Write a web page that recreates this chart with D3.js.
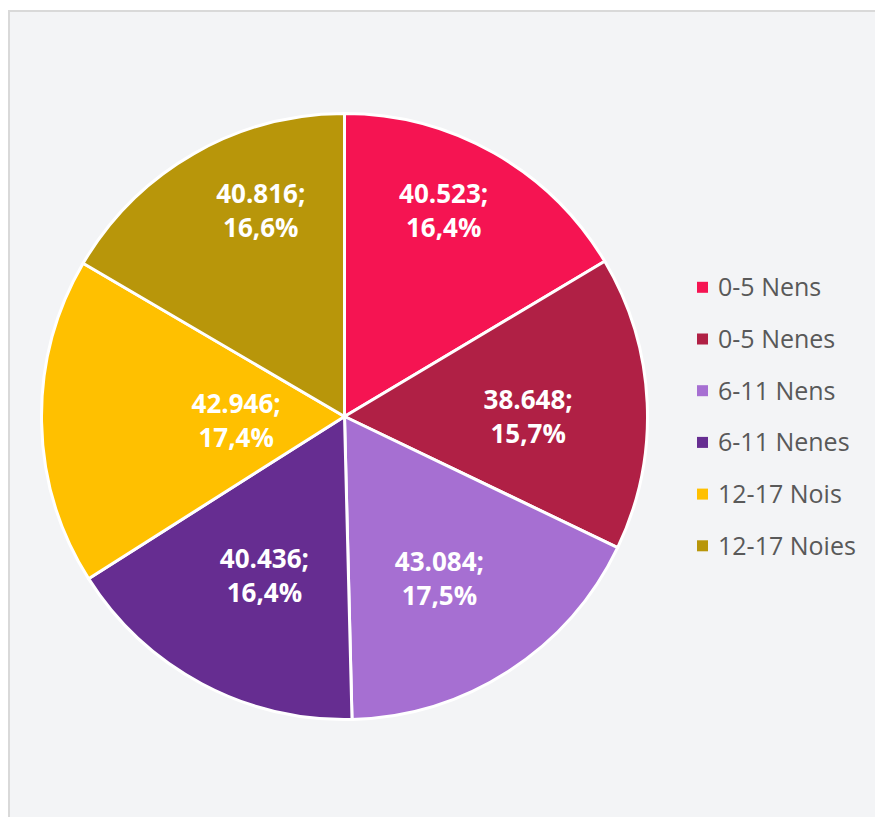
<!DOCTYPE html>
<meta charset="utf-8">
<script src="https://cdnjs.cloudflare.com/ajax/libs/d3/7.8.5/d3.min.js"></script>
<style>
body { margin: 0; background: #fff; }
text { font-family: "Open Sans", sans-serif; }
</style>
<body>
<script>
// data
var categories = ["0-5 Nens", "0-5 Nenes", "6-11 Nens", "6-11 Nenes", "12-17 Nois", "12-17 Noies"];
var values = [40523, 38648, 43084, 40436, 42946, 40816];
var colors = ["#F51452", "#B02045", "#A66FD2", "#662D91", "#FFC000", "#B8960A"];

// label placement (Excel "best fit" style nudges)
var labelRadius = [0.752, 0.606, 0.623, 0.590, 0.358, 0.731];
var labelTurn = [-3.8, 2.75, 2.7, -1.5, -1.4, 7.6];

var w = 875, h = 817;
var cx = 344.5, cy = 416.5, r = 303;

var svg = d3.select("body").append("svg")
    .attr("width", w)
    .attr("height", h);

// panel
svg.append("rect")
    .attr("x", 9).attr("y", 11)
    .attr("width", w + 10).attr("height", h + 10)
    .attr("fill", "#F3F4F6")
    .attr("stroke", "#D9D9D9")
    .attr("stroke-width", 2);

var fmt = d3.format(",");
var total = d3.sum(values);
var pct = function(v) { return (v / total * 100).toFixed(1).replace(".", ","); };
var num = function(v) { return fmt(v).replace(/,/g, "."); };

var pie = d3.pie().sort(null).value(function(d) { return d; });
var arc = d3.arc().innerRadius(0).outerRadius(r);
var arcs = pie(values);

var g = svg.append("g").attr("transform", "translate(" + cx + "," + cy + ")");

g.selectAll("path").data(arcs).enter().append("path")
    .attr("d", arc)
    .attr("fill", function(d, i) { return colors[i]; })
    .attr("stroke", "#fff")
    .attr("stroke-width", 3)
    .attr("stroke-linejoin", "round");

// labels
var lab = g.selectAll(".lab").data(arcs).enter().append("text")
    .attr("class", "lab")
    .attr("text-anchor", "middle")
    .attr("fill", "#fff")
    .style("font-weight", "bold")
    .style("font-size", "26px")
    .attr("transform", function(d, i) {
        var a = (d.startAngle + d.endAngle) / 2 + labelTurn[i] * Math.PI / 180;
        var rr = r * labelRadius[i];
        return "translate(" + (rr * Math.sin(a)) + "," + (-rr * Math.cos(a)) + ")";
    });
lab.append("tspan").attr("x", 0).attr("y", -8.5)
    .text(function(d) { return num(d.data) + ";"; });
lab.append("tspan").attr("x", 0).attr("y", 25.8)
    .text(function(d) { return pct(d.data) + "%"; });

// legend
var legend = svg.append("g").attr("transform", "translate(697,287.3)");
var row = legend.selectAll("g").data(categories).enter().append("g")
    .attr("transform", function(d, i) { return "translate(0," + (i * 51.7) + ")"; });
row.append("rect")
    .attr("x", 0).attr("y", -5.5)
    .attr("width", 11).attr("height", 11)
    .attr("fill", function(d, i) { return colors[i]; });
row.append("text")
    .attr("x", 21).attr("y", 9)
    .attr("fill", "#595959")
    .style("font-size", "25px")
    .text(function(d) { return d; });
</script>
</body>
